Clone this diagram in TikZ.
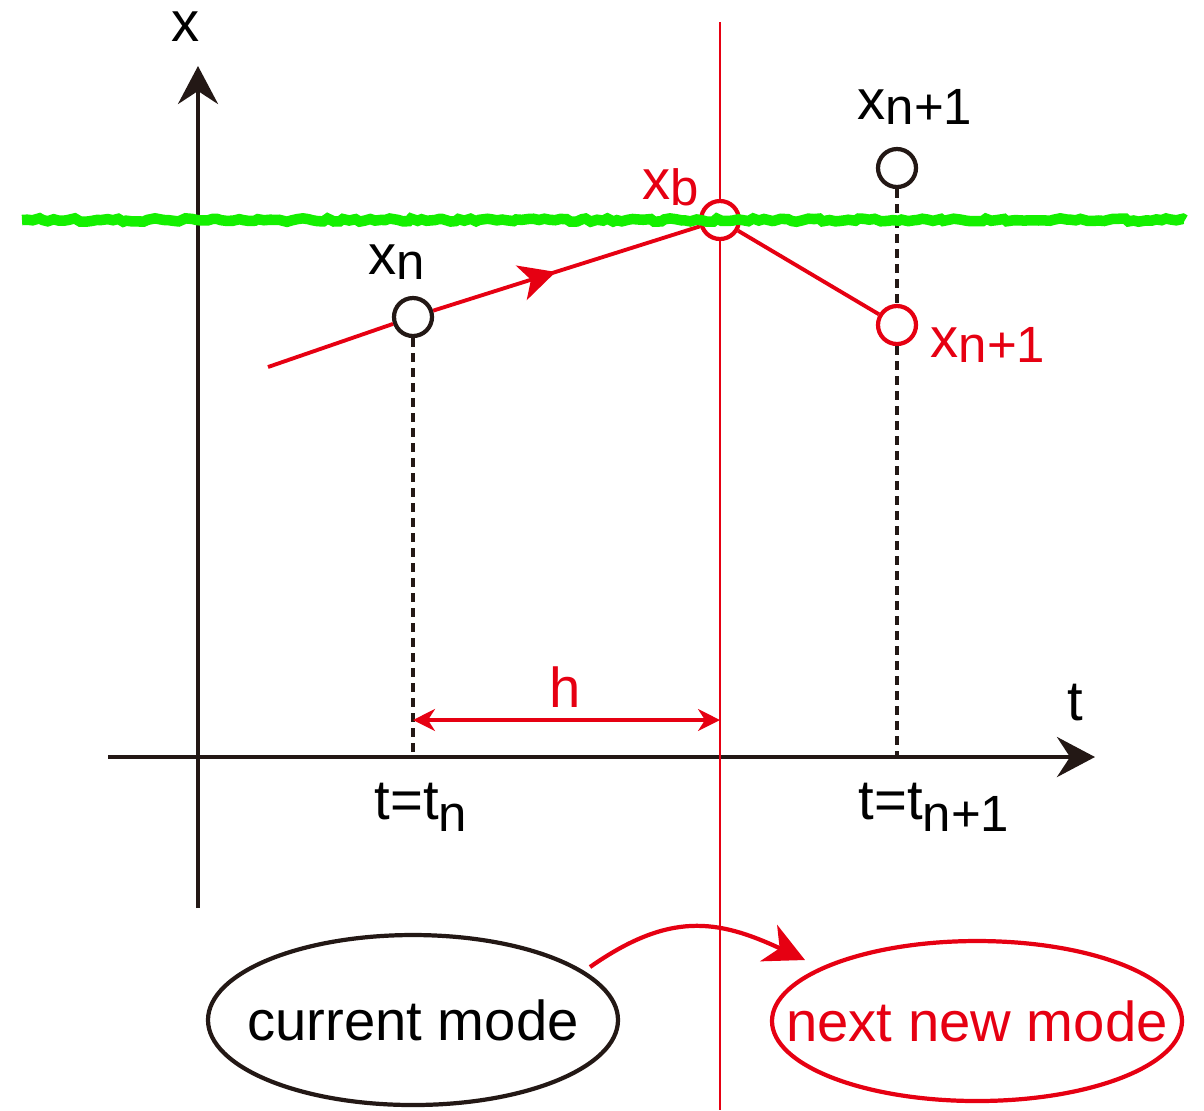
\documentclass[tikz,border=0pt]{standalone}
\usepackage{fontspec}
\setmainfont{Liberation Sans}
\usetikzlibrary{arrows.meta,positioning,shapes.geometric,decorations.pathmorphing,decorations.markings}
\definecolor{ink}{RGB}{35,24,21}
\definecolor{mred}{RGB}{230,0,18}
\definecolor{bound}{RGB}{20,240,0}
\tikzset{
  axis/.style={-{Stealth[length=3.8mm,width=4mm,inset=1.3mm]}, line width=1.2pt, color=ink},
  traj/.style={line width=1.1pt, color=mred},
  guide/.style={line width=1pt, color=ink, dash pattern=on 0.9mm off 0.6mm},
  dim/.style={{Stealth[length=2.2mm,width=2.2mm,inset=0.7mm]}-{Stealth[length=2.2mm,width=2.2mm,inset=0.7mm]}, line width=0.9pt, color=mred},
  flow/.style={-{Stealth[length=4mm,width=4mm,inset=1.2mm]}, line width=1.2pt, color=mred},
  pt/.style={circle, draw=#1, fill=white, line width=1.2pt, minimum size=3.8mm, inner sep=0pt},
  lab/.style={font=\fontsize{16}{19}\selectfont, inner sep=0pt},
  modering/.style 2 args={ellipse, draw=#1, line width=1.2pt, minimum width=4.1cm, minimum height=#2, inner sep=0pt},
}
\newcommand{\lo}[2][1.5pt]{\raisebox{-#1}{\fontsize{14.5}{15}\selectfont #2}}

\begin{document}
\begin{tikzpicture}
  \useasboundingbox (0,0) rectangle (12.04,-11.10);
  % axes
  \coordinate (ybot) at (1.98,-9.08);
  \coordinate (ytop) at (1.98,-0.66);
  \coordinate (tl) at (1.08,-7.57);
  \coordinate (tr) at (10.95,-7.57);
  \draw[axis] (ybot) -- (ytop);
  \draw[axis] (tl) -- (tr);
  \node[lab] (xlab) at (1.86,-0.27) {x};
  \node[lab] (tlab) at (10.75,-7.03) {t};
  % mode switching time
  \coordinate (vtop) at (7.20,-0.22);
  \coordinate (vbot) at (7.20,-11.10);
  \draw[line width=0.6pt, mred] (vtop) -- (vbot);
  % states
  \node[pt=ink] (xn) at (4.13,-3.17) {};
  \node[pt=mred] (xb) at (7.20,-2.20) {};
  \node[pt=mred] (xnr) at (8.97,-3.25) {};
  \node[pt=ink] (xnb) at (8.97,-1.68) {};
  \coordinate (s0) at (2.68,-3.67);
  \coordinate (tn) at (4.13,-7.57);
  \coordinate (tn1) at (8.97,-7.57);
  \draw[traj] (s0) -- (xn);
  \draw[traj, postaction={decorate, decoration={markings, mark=at position 0.46 with {\arrow{Stealth[length=3.6mm,width=3.6mm,inset=1mm]}}}}] (xn) -- (xb);
  \draw[traj] (xb) -- (xnr);
  \draw[guide] (xn) -- (tn);
  \draw[guide] (xnb) -- (xnr);
  \draw[guide] (xnr) -- (tn1);
  % guard
  \coordinate (gl) at (0.22,-2.20);
  \coordinate (gr) at (11.85,-2.20);
  \draw[bound, line width=3pt, decorate, decoration={random steps, segment length=1.5pt, amplitude=0.5pt}] (gl) -- (gr);
  % labels
  \node[lab] (lxn) at (3.97,-2.62) {x\lo{n}};
  \node[lab, text=mred] (lxb) at (6.71,-1.87) {x\lo{b}};
  \node[lab] (lxnb) at (9.15,-1.07) {x\lo{n+1}};
  \node[lab, text=mred] (lxnr) at (9.88,-3.45) {x\lo{n+1}};
  \node[lab] (ltn) at (4.21,-8.07) {t=t\lo[3.5pt]{n}};
  \node[lab] (ltn1) at (9.34,-8.07) {t=t\lo[3.5pt]{n+1}};
  % step size
  \coordinate (h0) at (4.13,-7.20);
  \coordinate (h1) at (7.20,-7.20);
  \draw[dim] (h0) -- (h1);
  \node[lab, text=mred] (hlab) at (5.65,-6.87) {h};
  % modes
  \node[modering={ink}{1.70cm}] (cur) at (4.13,-10.20) {};
  \node[lab] at (cur.center) {current mode};
  \node[modering={mred}{1.60cm}] (nxt) at (9.77,-10.21) {};
  \node[lab, text=mred] at (nxt.center) {next new mode};
  \coordinate (c0) at (5.90,-9.67);
  \coordinate (c1) at (8.05,-9.60);
  \draw[flow] (c0) to[out=35,in=155,looseness=1.15] (c1);
\end{tikzpicture}
\end{document}
